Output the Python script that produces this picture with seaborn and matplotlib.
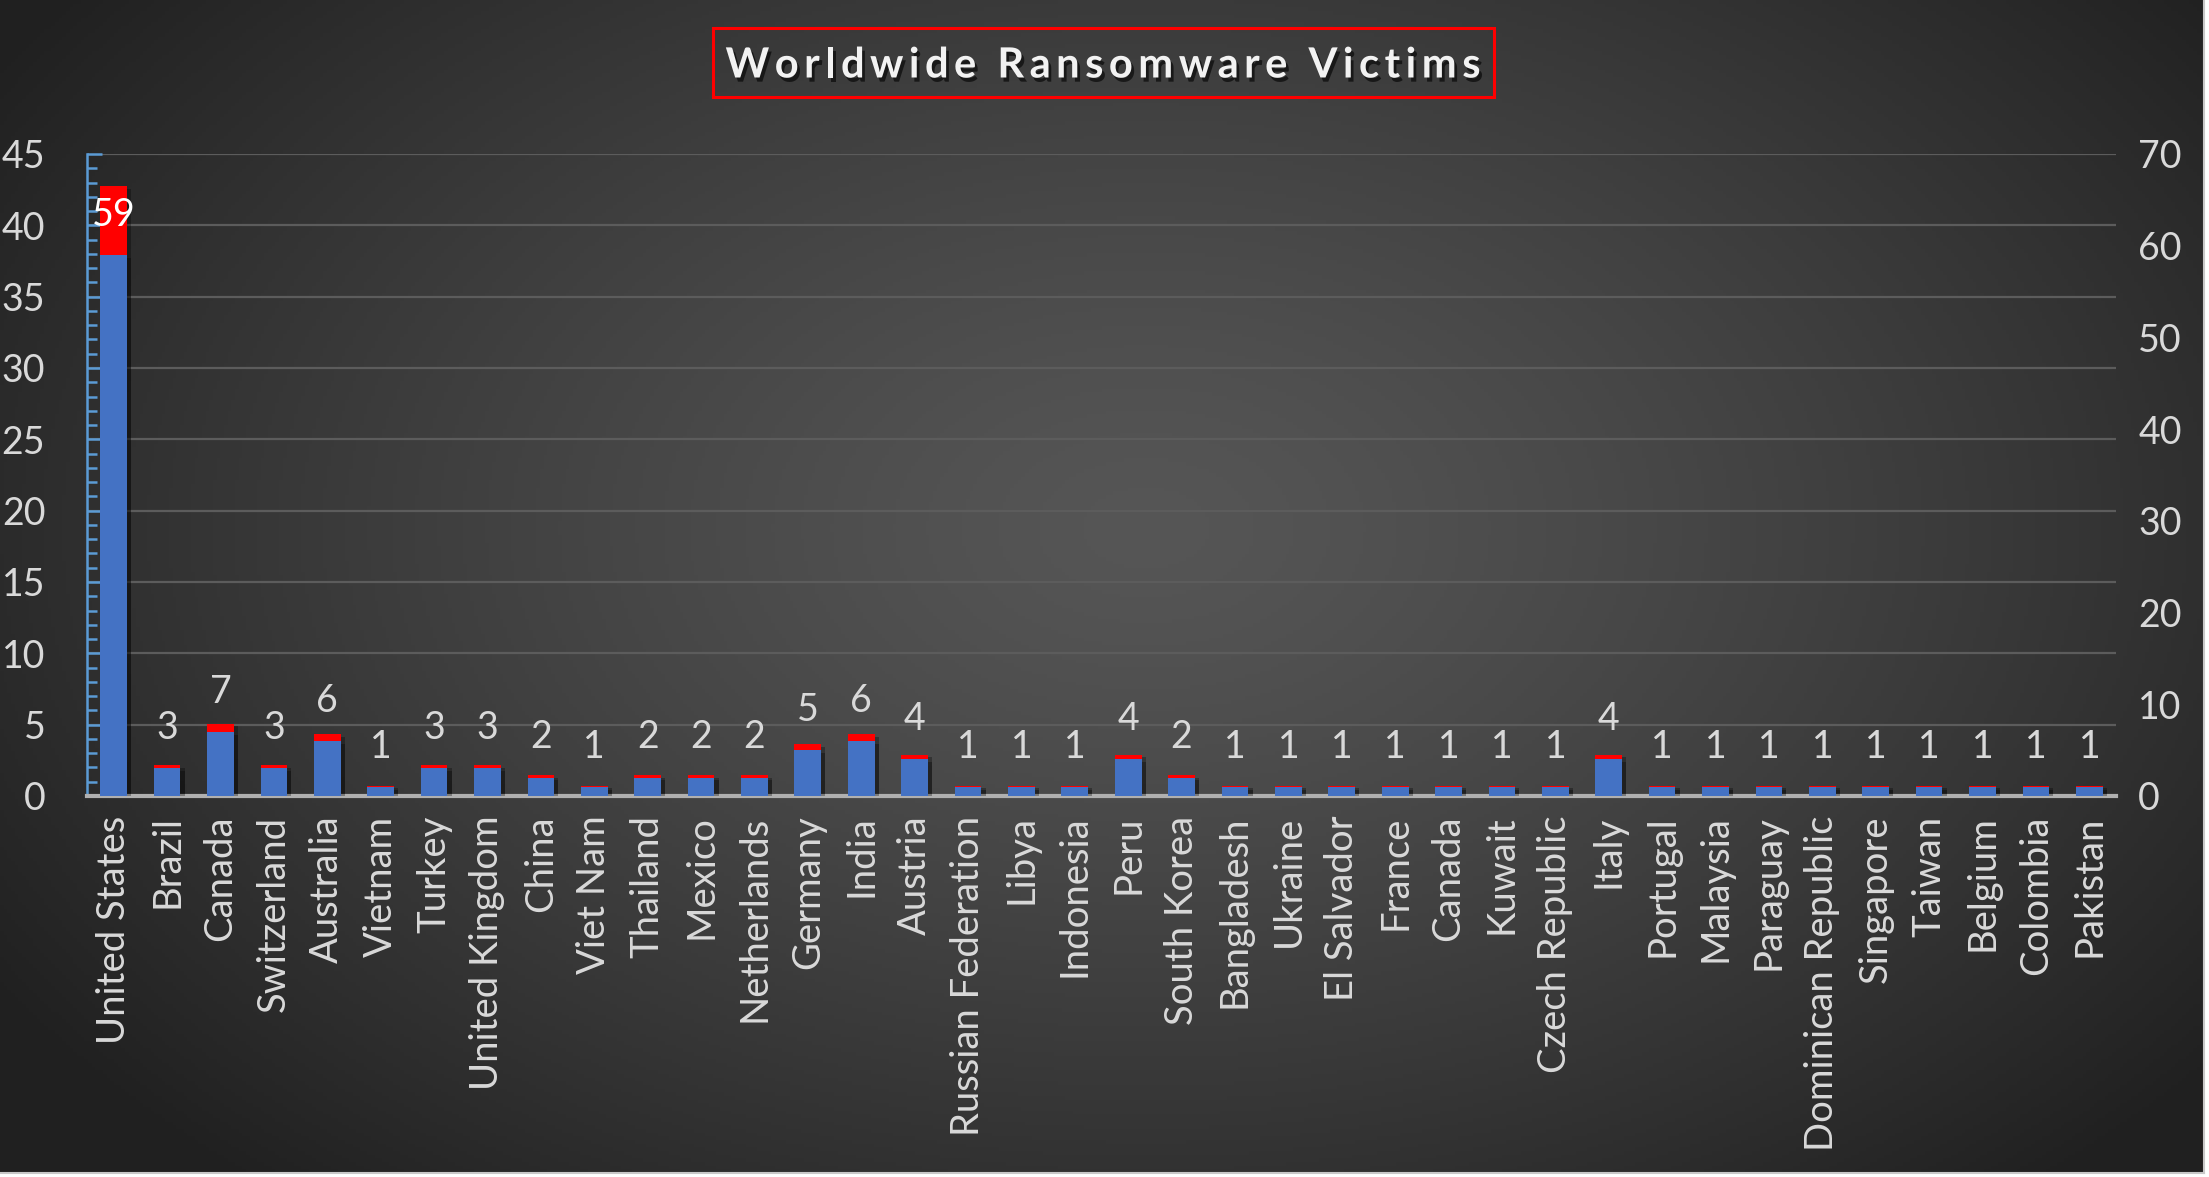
import numpy as np
import pandas as pd
import matplotlib
matplotlib.use('Agg')
import matplotlib.pyplot as plt
import matplotlib.patheffects as pe
from matplotlib.patches import Rectangle
from matplotlib.ticker import MultipleLocator
import seaborn as sns

countries = ['United States', 'Brazil', 'Canada', 'Switzerland', 'Australia', 'Vietnam',
             'Turkey', 'United Kingdom', 'China', 'Viet Nam', 'Thailand', 'Mexico',
             'Netherlands', 'Germany', 'India', 'Austria', 'Russian Federation', 'Libya',
             'Indonesia', 'Peru', 'South Korea', 'Bangladesh', 'Ukraine', 'El Salvador',
             'France', 'Canada', 'Kuwait', 'Czech Republic', 'Italy', 'Portugal', 'Malaysia',
             'Paraguay', 'Dominican Republic', 'Singapore', 'Taiwan', 'Belgium', 'Colombia',
             'Pakistan']
victims = [59, 3, 7, 3, 6, 1, 3, 3, 2, 1, 2, 2, 2, 5, 6, 4, 1, 1, 1, 4, 2, 1, 1, 1,
           1, 1, 1, 1, 4, 1, 1, 1, 1, 1, 1, 1, 1, 1]
title = 'Worldwide Ransomware Victims'

# red series = share of all victims (%), left axis; blue = count, right axis
share = [v / sum(victims) * 100 for v in victims]

df = pd.DataFrame({'pos': range(len(countries)), 'victims': victims, 'share': share})

sns.set_theme(style='dark')
plt.rcParams['font.family'] = ['Lato', 'DejaVu Sans']

TXT = '#d9d9d9'
W, H = 2209, 1177

fig = plt.figure(figsize=(W / 100, H / 100), dpi=100, facecolor='white')

# dark radial gradient background, light border on right/bottom
bg = fig.add_axes([0, 4 / H, 2204 / W, 1 - 4 / H], zorder=-10)
gx, gy = np.meshgrid(np.linspace(0, 1, 600), np.linspace(0, 1, 320))
r = np.sqrt(((gx - 0.52) / 0.62) ** 2 + ((gy - 0.45) / 0.75) ** 2)
r = np.clip(r, 0, 1)
dark, light = 0x20 / 255, 0x56 / 255
val = light - (light - dark) * r ** 1.3
bg.imshow(np.dstack([val, val, val]), extent=[0, 1, 0, 1], aspect='auto', origin='upper')
bg.set_xticks([])
bg.set_yticks([])
for s in ['top', 'left']:
    bg.spines[s].set_visible(False)
for s in ['bottom', 'right']:
    bg.spines[s].set_color('#c8c8c8')
    bg.spines[s].set_linewidth(1.5)

ax = fig.add_axes([87 / W, 1 - 796 / H, 2029 / W, 642 / H])
ax.set_facecolor('none')
sns.barplot(data=df, x='pos', y='share', color='#ff0000', saturation=1,
            width=0.5, errorbar=None, linewidth=0, ax=ax)

ax2 = ax.twinx()
sns.barplot(data=df, x='pos', y='victims', color='#4472c4', saturation=1,
            width=0.5, errorbar=None, linewidth=0, ax=ax2)

shadow = [pe.SimplePatchShadow(offset=(3, -2), shadow_rgbFace='black', alpha=0.3), pe.Normal()]
for p in ax.patches:
    p.set_path_effects(shadow)
for p in ax2.patches:
    p.set_path_effects(shadow)

for p, v in zip(ax2.patches, victims):
    ax2.annotate(str(v), (p.get_x() + p.get_width() / 2, p.get_height()),
                 xytext=(0, 29), textcoords='offset points', ha='center', va='center',
                 color=TXT if v != 59 else 'white', fontsize=27)

ax.set_xlim(-0.5, len(countries) - 0.5)
ax.set_ylim(0, 45)
ax2.set_ylim(0, 70)
ax.yaxis.set_major_locator(MultipleLocator(5))
ax.yaxis.set_minor_locator(MultipleLocator(1))
ax2.yaxis.set_major_locator(MultipleLocator(10))

ax.set_xticks(range(len(countries)))
ax.set_xticklabels(countries, rotation=90, ha='center', va='top')
ax.set_xlabel('')
ax.set_ylabel('')
ax2.set_ylabel('')

ax.grid(axis='y', color='#5c5c5c', lw=1.6)
ax.grid(axis='x', visible=False)
ax2.grid(False)
ax.set_axisbelow(True)

for s in ['top', 'right']:
    ax.spines[s].set_visible(False)
for s in ax2.spines.values():
    s.set_visible(False)
ax.spines['left'].set_color('#5b9bd5')
ax.spines['left'].set_linewidth(1.8)
ax.spines['bottom'].set_color('#b0b0b0')
ax.spines['bottom'].set_linewidth(3)
ax.spines['bottom'].set_zorder(5)

ax.tick_params(axis='y', which='major', direction='in', length=11, width=1.8,
               color='#5b9bd5', labelcolor=TXT, labelsize=27, pad=30, left=True)
ax.tick_params(axis='y', which='minor', direction='in', length=7, width=1.8,
               color='#5b9bd5', left=True)
ax.tick_params(axis='x', length=0, labelcolor=TXT, labelsize=27.5, pad=14)
ax2.tick_params(axis='y', length=0, labelcolor=TXT, labelsize=27, pad=16)

# letter-spaced bold title inside a red frame
renderer = fig.canvas.get_renderer()
tprops = dict(fontsize=30, fontweight='bold', color='#f2f2f2')
tshadow = [pe.withSimplePatchShadow(offset=(2, -3), shadow_rgbFace='black', alpha=0.6)]


def text_width(s):
    t = fig.text(0, 0, s, **tprops)
    w = t.get_window_extent(renderer).width
    t.remove()
    return w


spacing = 5.5
total = text_width(title) + spacing * (len(title) - 1)
cx, cy = 1103, H - 62
x0 = cx - total / 2
for i, ch in enumerate(title):
    if ch == ' ':
        continue
    left = text_width(title[:i + 1]) - text_width(ch) + i * spacing
    fig.text((x0 + left) / W, cy / H, ch, ha='left', va='center_baseline',
             path_effects=tshadow, **tprops)

padx, boxh = 13, 69
fig.patches.append(Rectangle(((x0 - padx) / W, (cy - boxh / 2) / H),
                             (total + 2 * padx) / W, boxh / H, transform=fig.transFigure,
                             fill=False, ec='#ff0000', lw=2.2))

fig.savefig('out.png', dpi=100, facecolor='white')
